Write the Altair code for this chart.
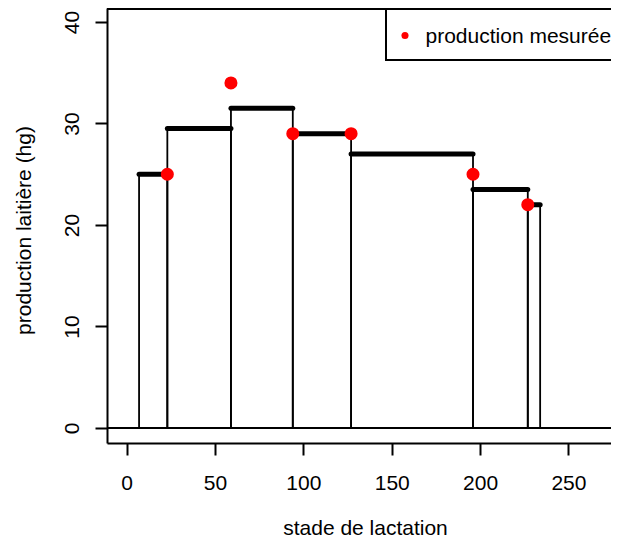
import altair as alt
import pandas as pd

# ---- data ----
edges = [7, 23, 59, 94, 127, 196, 227, 234]          # stade de lactation (interval limits)
heights = [25, 29.5, 31.5, 29, 27, 23.5, 22]          # estimated production per interval
meas_day = [23, 59, 94, 127, 196, 227]                # measurement days
meas_prod = [25, 34, 29, 29, 25, 22]                  # measured production
x_ticks = [0, 50, 100, 150, 200, 250]
y_ticks = [0, 10, 20, 30, 40]
x_title = "stade de lactation"
y_title = "production laitière (hg)"
legend_label = "production mesurée"

bars = pd.DataFrame({"start": edges[:-1], "end": edges[1:], "height": heights,
                     "base": [0] * len(heights)})
pts = pd.DataFrame({"day": meas_day, "prod": meas_prod})
zero_line = pd.DataFrame({"y": [0]})

W, H = 504, 435
FONT = "Liberation Sans"
FS = 21

xs = alt.Scale(domain=[-11.15, 274.1], nice=False, zero=False)
ys = alt.Scale(domain=[-1.48, 41.38], nice=False, zero=False)

x_axis = alt.Axis(values=x_ticks, title=x_title, grid=False,
                  domainColor="black", domainWidth=2,
                  tickColor="black", tickWidth=2, tickSize=12,
                  labelFont=FONT, labelFontSize=FS, labelColor="black",
                  labelPadding=17, labelFlush=False, labelOverlap=False,
                  titleFont=FONT, titleFontSize=FS, titleFontWeight="normal",
                  titleColor="black", titleX=258, titleY=91,
                  titleAlign="center", titleBaseline="alphabetic")
y_axis = alt.Axis(values=y_ticks, title=y_title, grid=False,
                  domainColor="black", domainWidth=2,
                  tickColor="black", tickWidth=2, tickSize=12,
                  labelFont=FONT, labelFontSize=FS, labelColor="black",
                  labelAngle=270, labelAlign="center", labelBaseline="alphabetic",
                  labelPadding=17, labelFlush=False, labelOverlap=False,
                  titleFont=FONT, titleFontSize=FS, titleFontWeight="normal",
                  titleColor="black", titleAngle=270, titleAlign="center",
                  titleBaseline="alphabetic", titleX=-77, titleY=222)

rects = alt.Chart(bars).mark_rect(fillOpacity=0, stroke="black", strokeWidth=1.8).encode(
    x=alt.X("start:Q", scale=xs, axis=x_axis),
    x2="end:Q",
    y=alt.Y("height:Q", scale=ys, axis=y_axis),
    y2="base:Q",
)

hline = alt.Chart(zero_line).mark_rule(color="black", strokeWidth=1.8).encode(
    y=alt.Y("y:Q", scale=ys),
    x=alt.value(0), x2=alt.value(W),
)

tops = alt.Chart(bars).mark_rule(color="black", strokeWidth=5, strokeCap="round").encode(
    x=alt.X("start:Q", scale=xs), x2="end:Q",
    y=alt.Y("height:Q", scale=ys),
)

points = alt.Chart(pts).mark_circle(size=170, color="#FF0000", opacity=1).encode(
    x=alt.X("day:Q", scale=xs),
    y=alt.Y("prod:Q", scale=ys),
)

top_border = alt.Chart(zero_line).mark_rule(color="black", strokeWidth=2).encode(
    x=alt.value(0), x2=alt.value(W), y=alt.value(1),
)

legend_box = alt.Chart(zero_line).mark_rect(
    fill="white", stroke="black", strokeWidth=2, clip=True
).encode(
    x=alt.value(279), x2=alt.value(W + 20), y=alt.value(1), y2=alt.value(52),
)

legend_dot = alt.Chart(zero_line).mark_circle(size=50, color="#FF0000", opacity=1).encode(
    x=alt.value(298), y=alt.value(27.5),
)

legend_text = alt.Chart(zero_line).mark_text(
    text=legend_label, align="left", baseline="alphabetic",
    font=FONT, fontSize=FS, color="black"
).encode(
    x=alt.value(318.5), y=alt.value(35),
)

chart = alt.layer(
    rects, hline, tops, points, legend_box, top_border, legend_dot, legend_text
).properties(
    width=W, height=H,
    autosize=alt.AutoSizeParams(type="none"),
    padding={"left": 99, "top": 0, "right": 0, "bottom": 96},
).configure_view(stroke="transparent")

chart.save("out.html", embed_options={"renderer": "svg", "actions": False})
